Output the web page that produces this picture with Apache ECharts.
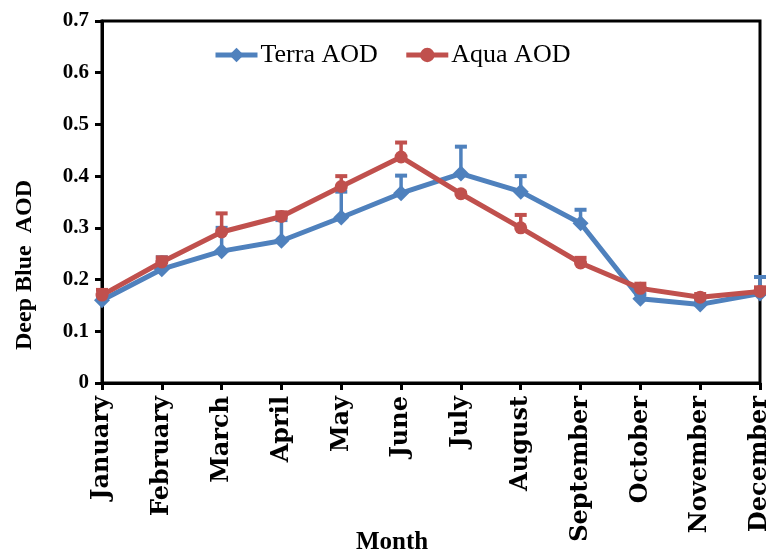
<!DOCTYPE html>
<html><head><meta charset="utf-8">
<script src="https://cdn.jsdelivr.net/npm/echarts@6/dist/echarts.min.js"></script>
<style>html,body{margin:0;padding:0;background:#fff}#c{width:766px;height:559px}</style>
</head><body><div id="c"></div>
<script>
const months = ["January","February","March","April","May","June","July","August","September","October","November","December"];
const yTicks = [0,0.1,0.2,0.3,0.4,0.5,0.6,0.7];
const terra = [0.160,0.220,0.255,0.275,0.320,0.367,0.405,0.370,0.309,0.163,0.152,0.173];
const terraUpper = [0.168,0.243,0.300,0.315,0.370,0.401,0.457,0.400,0.335,0.172,0.160,0.205];
const aqua = [0.170,0.234,0.292,0.322,0.380,0.437,0.366,0.300,0.232,0.183,0.166,0.177];
const aquaUpper = [0.180,0.243,0.328,0.330,0.400,0.465,0.368,0.325,0.242,0.192,0.172,0.185];

const BLUE = '#4F81BD', RED = '#C0504D';
const FONT = '"Liberation Serif","Times New Roman",serif';
const WIDE = '"DejaVu Serif",serif';

function errSeries(name, vals, upper, color, z) {
  return {
    type: 'custom', name: name + ' err', z: z, silent: true,
    data: vals.map((v, i) => [i, v, upper[i]]),
    renderItem: function (params, api) {
      const p0 = api.coord([api.value(0), api.value(1)]);
      const p1 = api.coord([api.value(0), api.value(2)]);
      const w = 6;
      return {
        type: 'group', children: [
          { type: 'line', shape: { x1: p0[0], y1: p0[1], x2: p1[0], y2: p1[1] }, style: { stroke: color, lineWidth: 3.5 } },
          { type: 'line', shape: { x1: p1[0] - w, y1: p1[1], x2: p1[0] + w, y2: p1[1] }, style: { stroke: color, lineWidth: 4 } }
        ]
      };
    }
  };
}

const chart = echarts.init(document.getElementById('c'), null, { renderer: 'canvas' });
chart.setOption({
  animation: false,
  backgroundColor: '#fff',
  grid: { left: 102, right: 6, top: 21, bottom: 176, outerBoundsMode: 'none', containLabel: false,
    show: true, borderColor: '#000', borderWidth: 3, backgroundColor: 'transparent' },
  legend: {
    top: 37, left: 208, itemGap: 26, itemWidth: 42, itemHeight: 18,
    lineStyle: { width: 5 },
    textStyle: { fontFamily: FONT, fontSize: 26, color: '#000', padding: [0, 0, 0, -2] },
    data: ['Terra AOD', 'Aqua AOD']
  },
  xAxis: {
    type: 'category', data: months, boundaryGap: false,
    axisLine: { lineStyle: { color: '#000', width: 3 } },
    axisTick: { alignWithLabel: true, length: 7, lineStyle: { color: '#000', width: 3 } },
    axisLabel: { rotate: 90, interval: 0, margin: 13, fontFamily: WIDE, fontWeight: 'bold', fontSize: 24, color: '#000' },
    splitLine: { show: false }
  },
  yAxis: {
    type: 'value', min: 0, max: 0.7, interval: 0.1,
    axisLine: { show: true, lineStyle: { color: '#000', width: 3 } },
    axisTick: { show: true, length: 7, lineStyle: { color: '#000', width: 3 } },
    axisLabel: { margin: 13, fontFamily: FONT, fontWeight: 'bold', fontSize: 21, color: '#000',
      formatter: v => { const t = yTicks.find(x => Math.abs(x - v) < 1e-9); return t === 0 ? '0' : String(t); } },
    splitLine: { show: false }
  },
  graphic: [
    { type: 'text', left: 13, top: 180, rotation: Math.PI / 2, style: { text: 'Deep Blue  AOD', fontFamily: FONT, fontWeight: 'bold', fontSize: 24, fill: '#000' } },
    { type: 'text', left: 356, top: 530, style: { text: 'Month', fontFamily: FONT, fontWeight: 'bold', fontSize: 25, fill: '#000' } }
  ],
  series: [
    errSeries('Terra AOD', terra, terraUpper, BLUE, 1),
    errSeries('Aqua AOD', aqua, aquaUpper, RED, 3),
    { name: 'Terra AOD', type: 'line', data: terra, z: 2, symbol: 'diamond', symbolSize: 16,
      itemStyle: { color: BLUE }, lineStyle: { color: BLUE, width: 5 } },
    { name: 'Aqua AOD', type: 'line', data: aqua, z: 4, symbol: 'circle', symbolSize: 13,
      itemStyle: { color: RED }, lineStyle: { color: RED, width: 5 } }
  ]
});
</script></body></html>
